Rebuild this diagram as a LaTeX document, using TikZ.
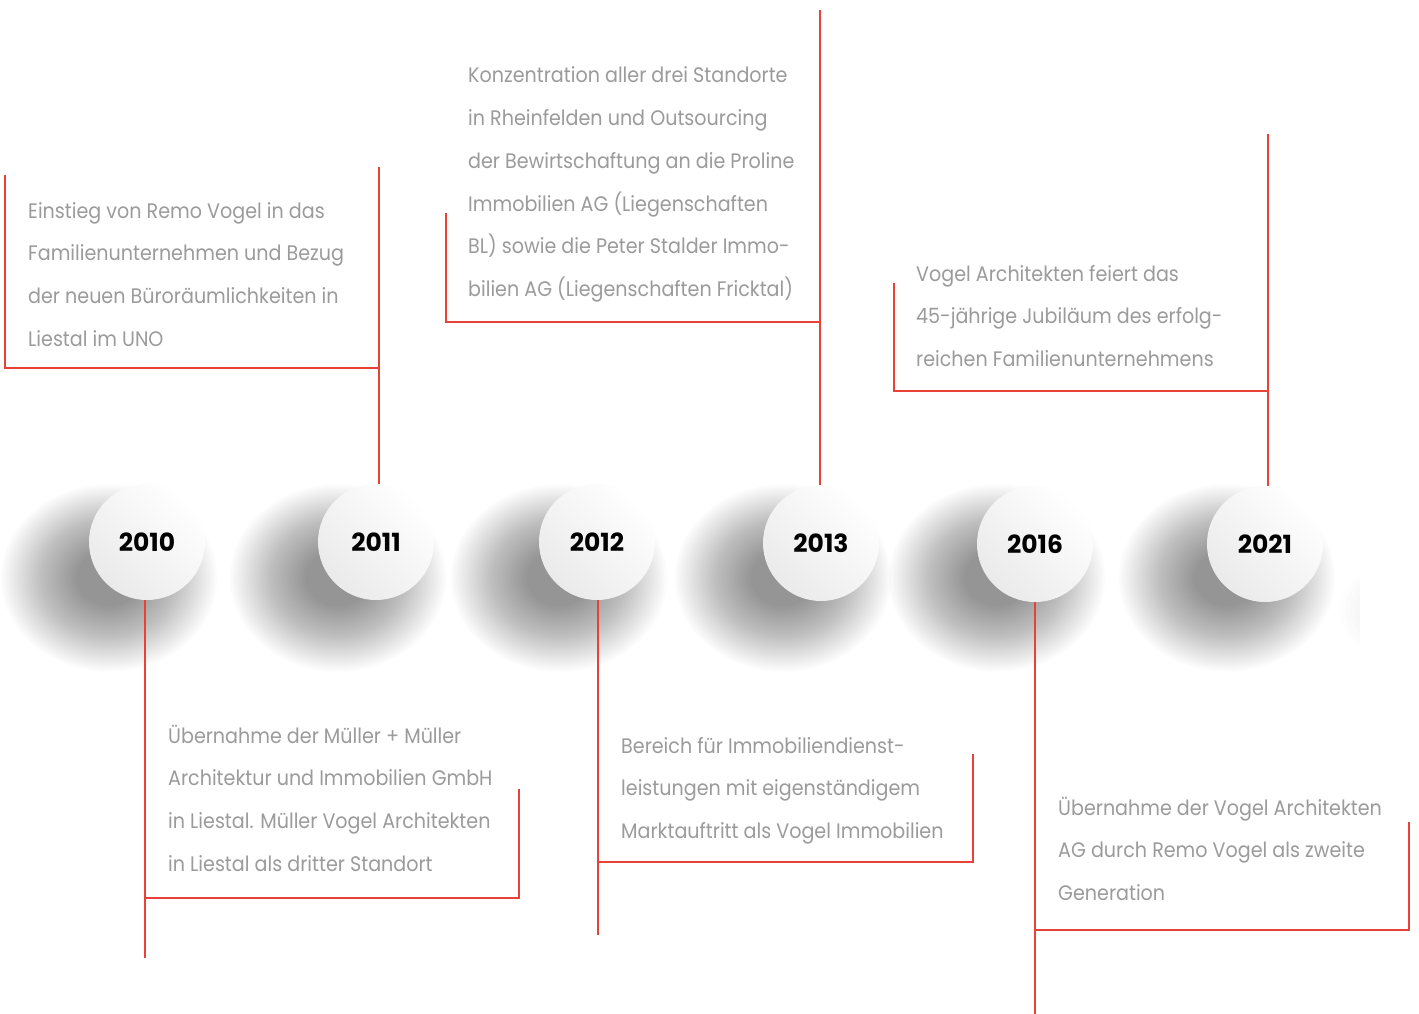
\documentclass[tikz,border=0pt]{standalone}
\usepackage{fontspec}
\newfontfamily\bodyfont{Poppins}[FakeStretch=0.91]
\newfontfamily\yearfont{Poppins}
\definecolor{txt}{RGB}{155,155,155}
\definecolor{accent}{RGB}{232,66,56}
\definecolor{ballshade}{RGB}{234,234,234}
\begin{document}
\begin{tikzpicture}[x=1pt,y=-1pt,
  redline/.style={draw=accent, line width=1.3pt},
  shadowlayer/.style={fill=black, fill opacity=0.0145},
  faintlayer/.style={fill=black, fill opacity=0.008},
  body/.style={font=\bodyfont\fontsize{21}{25}\selectfont, text=txt, inner sep=0pt, anchor=base west},
  yearball/.style={circle, minimum size=116pt, inner sep=0pt, top color=white, bottom color=ballshade, shading angle=-45,
    font=\yearfont\bfseries\fontsize{25}{30}\selectfont, text=black}]
\useasboundingbox[fill=white] (0,0) rectangle (1419,1014);

% soft drop shadows, built from stacked translucent ellipses
\foreach \cx in {147,376,597,821,1035,1265}
  \foreach \k in {1,...,30}
    \fill[shadowlayer] ({\cx-38},578) ellipse [x radius={(30+2.6*\k)*1pt}, y radius={(26+2.25*\k)*1pt}];
\begin{scope}
  \clip (1330,550) rectangle (1360,670);
  \foreach \k in {1,...,8}
    \fill[faintlayer] (1400,610) ellipse [x radius={(20+5*\k)*1pt}, y radius={(16+4*\k)*1pt}];
\end{scope}

% bracket end points
\coordinate (aTop) at (379,167);  \coordinate (aL) at (5,175);    \coordinate (aB) at (5,368);
\coordinate (bTop) at (820,10);   \coordinate (bL) at (446,213);  \coordinate (bB) at (446,322);
\coordinate (cTop) at (1268,134); \coordinate (cL) at (894,283);  \coordinate (cB) at (894,391);
\coordinate (dBot) at (145,958);  \coordinate (dR) at (519,789);  \coordinate (dB) at (519,898);
\coordinate (eBot) at (598,935);  \coordinate (eR) at (973,754);  \coordinate (eB) at (973,862);
\coordinate (fBot) at (1035,1014);\coordinate (fR) at (1409,822); \coordinate (fB) at (1409,930);

% year discs
\node[yearball] (y2010) at (147,542) {2010};
\node[yearball] (y2011) at (376,542) {2011};
\node[yearball] (y2012) at (597,542) {2012};
\node[yearball] (y2013) at (821,543) {2013};
\node[yearball] (y2016) at (1035,544) {2016};
\node[yearball] (y2021) at (1265,544) {2021};

% brackets above
\draw[redline] (aL) -- (aB) -- (aB -| aTop);
\draw[redline] (aTop) -- (aTop |- y2011.north);
\draw[redline] (bL) -- (bB) -- (bB -| bTop);
\draw[redline] (bTop) -- (bTop |- y2013.north);
\draw[redline] (cL) -- (cB) -- (cB -| cTop);
\draw[redline] (cTop) -- (cTop |- y2021.north);
% brackets below
\draw[redline] (dBot |- y2010.south) -- (dBot);
\draw[redline] (dR) -- (dB) -- (dB -| dBot);
\draw[redline] (eBot |- y2012.south) -- (eBot);
\draw[redline] (eR) -- (eB) -- (eB -| eBot);
\draw[redline] (fBot |- y2016.south) -- (fBot);
\draw[redline] (fR) -- (fB) -- (fB -| fBot);

% texts
\foreach \t [count=\i] in {{Einstieg von Remo Vogel in das},{Familienunternehmen und Bezug},{der neuen Büroräumlichkeiten in},{Liestal im UNO}}
  \node[body] (a\i) at (28,{218+42.7*(\i-1)}) {\t};
\foreach \t [count=\i] in {{Konzentration aller drei Standorte},{in Rheinfelden und Outsourcing},{der Bewirtschaftung an die Proline},{Immobilien AG (Liegenschaften},{BL) sowie die Peter Stalder Immo-},{bilien AG (Liegenschaften Fricktal)}}
  \node[body] (b\i) at (468,{83+42.7*(\i-1)}) {\t};
\foreach \t [count=\i] in {{Vogel Architekten feiert das},{45-jährige Jubiläum des erfolg-},{reichen Familienunternehmens}}
  \node[body] (c\i) at (916,{281+42.7*(\i-1)}) {\t};
\foreach \t [count=\i] in {{Übernahme der Müller + Müller},{Architektur und Immobilien GmbH},{in Liestal. Müller Vogel Architekten},{in Liestal als dritter Standort}}
  \node[body] (d\i) at (168,{743+42.7*(\i-1)}) {\t};
\foreach \t [count=\i] in {{Bereich für Immobiliendienst-},{leistungen mit eigenständigem},{Marktauftritt als Vogel Immobilien}}
  \node[body] (e\i) at (621,{753+42.7*(\i-1)}) {\t};
\foreach \t [count=\i] in {{Übernahme der Vogel Architekten},{AG durch Remo Vogel als zweite},{Generation}}
  \node[body] (f\i) at (1058,{815+42.7*(\i-1)}) {\t};
\end{tikzpicture}
\end{document}
